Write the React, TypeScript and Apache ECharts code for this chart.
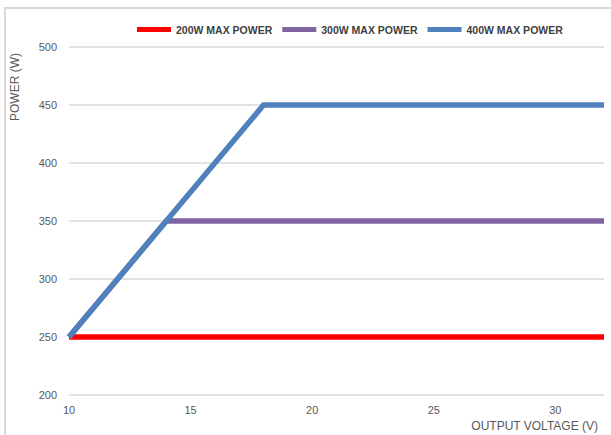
import React, { useEffect, useRef } from "react";
import * as echarts from "echarts";

const seriesNames = ["200W MAX POWER", "300W MAX POWER", "400W MAX POWER"];
const seriesColors = ["#FF0000", "#8064A2", "#4F81BD"];
const voltage200 = [10, 32];
const power200 = [250, 250];
const voltage300 = [10, 14, 32];
const power300 = [250, 350, 350];
const voltage400 = [10, 18, 32];
const power400 = [250, 450, 450];

const zip = (xs: number[], ys: number[]) => xs.map((x, i) => [x, ys[i]]);

export default function App() {
  const ref = useRef<HTMLDivElement>(null);
  useEffect(() => {
    if (!ref.current) return;
    const chart = echarts.init(ref.current, null, { renderer: "svg" });
    const data = [zip(voltage200, power200), zip(voltage300, power300), zip(voltage400, power400)];
    const axisFont = "'Liberation Sans', Arial, sans-serif";
    chart.setOption({
      animation: false,
      backgroundColor: "#ffffff",
      grid: { left: 69, right: 7, top: 47, bottom: 40, containLabel: false },
      legend: {
        left: 137,
        top: 24,
        padding: 0,
        icon: "rect",
        itemWidth: 34,
        itemHeight: 5,
        itemGap: 10,
        textStyle: { fontFamily: axisFont, fontWeight: "bold", fontSize: 10.5, color: "#404040" },
        data: seriesNames,
      },
      xAxis: {
        type: "value",
        min: 10,
        max: 32,
        interval: 5,
        axisLine: { show: false },
        axisTick: { show: false },
        splitLine: { show: false },
        axisLabel: { showMaxLabel: false, color: "#595959", fontSize: 11, fontFamily: axisFont, margin: 9 },
      },
      yAxis: {
        type: "value",
        min: 200,
        max: 500,
        interval: 50,
        axisLine: { show: false },
        axisTick: { show: false },
        splitLine: { lineStyle: { color: "#d9d9d9", width: 1.5 } },
        axisLabel: { color: "#595959", fontSize: 11, fontFamily: axisFont, margin: 12 },
      },
      graphic: [
        {
          type: "rect",
          shape: { x: 5, y: 8, width: 640, height: 460 },
          style: { fill: "none", stroke: "#d9d9d9", lineWidth: 2 },
          silent: true,
        },
        {
          type: "text",
          x: 15,
          y: 87,
          rotation: Math.PI / 2,
          style: {
            text: "POWER (W)",
            fill: "#595959",
            fontSize: 12,
            fontFamily: axisFont,
            textAlign: "center",
            textVerticalAlign: "middle",
          },
        },
        {
          type: "text",
          x: 598,
          y: 426,
          style: {
            text: "OUTPUT VOLTAGE (V)",
            fill: "#595959",
            fontSize: 12,
            fontFamily: axisFont,
            textAlign: "right",
            textVerticalAlign: "middle",
          },
        },
      ],
      series: seriesNames.map((name, i) => ({
        name,
        type: "line",
        data: data[i],
        showSymbol: false,
        symbol: "none",
        color: seriesColors[i],
        lineStyle: { width: 5.5, color: seriesColors[i], cap: "butt", join: "miter" },
        z: 2 + i,
      })),
    });
    return () => chart.dispose();
  }, []);
  return (
    <div
      ref={ref}
      style={{ position: "absolute", left: 0, top: 0, width: 611, height: 435 }}
    />
  );
}
